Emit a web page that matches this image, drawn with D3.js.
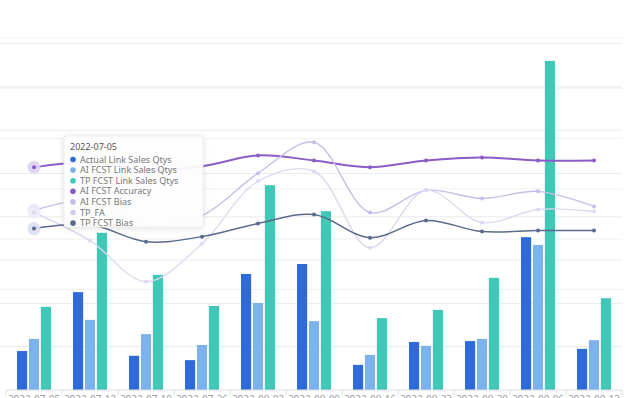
<!DOCTYPE html>
<html>
<head>
<meta charset="utf-8">
<script src="https://cdn.jsdelivr.net/npm/d3@7"></script>
<style>
  html, body { margin: 0; padding: 0; background: #fff; }
  #wrap { width: 630px; height: 398px; overflow: hidden; }
  text { font-family: "Noto Sans", "DejaVu Sans", sans-serif; }
</style>
</head>
<body>
<div id="wrap"></div>
<script>
// categories (weekly dates)
let dates = ['2022-07-05', '2022-07-12', '2022-07-19', '2022-07-26', '2022-08-02', '2022-08-09',
             '2022-08-16', '2022-08-23', '2022-08-30', '2022-09-06', '2022-09-13'];

// bar series (qtys)
let actualQty = [90, 226, 79, 69, 268, 291, 58, 111, 113, 353, 95];
let aiFcstQty = [118, 162, 129, 104, 201, 159, 81, 102, 118, 335, 115];
let tpFcstQty = [192, 363, 266, 194, 473, 413, 166, 185, 259, 760, 212];

// line series (%)
let aiAccuracy = [68.6, 70.6, 67.4, 69.0, 73.3, 71.3, 68.6, 71.3, 72.5, 71.3, 71.3];
let aiBias = [51.4, 55.4, 45.4, 49.4, 66.2, 78.5, 50.6, 59.4, 56.2, 59.0, 53.0];
let tpFA = [50.6, 39.4, 23.1, 38.2, 63.0, 67.0, 36.6, 59.4, 46.6, 51.8, 51.0];
let tpBias = [44.2, 45.8, 39.0, 41.0, 46.2, 49.8, 40.6, 47.4, 43.0, 43.4, 43.4];

let leftTicks = [0, 100, 200, 300, 400, 500, 600, 700, 800];
let rightTicks = [-20, 0, 20, 40, 60, 80, 100, 120];

let barSeries = [
  {name: 'Actual Link Sales Qtys', values: actualQty, color: '#2f6bd8'},
  {name: 'AI FCST Link Sales Qtys', values: aiFcstQty, color: '#7db1ee'},
  {name: 'TP FCST Link Sales Qtys', values: tpFcstQty, color: '#3ec8b5'}
];
let lineSeries = [
  {name: 'AI FCST Accuracy', values: aiAccuracy, color: '#8a5cc6', width: 2, halo: '#dcd2f2'},
  {name: 'AI FCST Bias', values: aiBias, color: '#c8bde8', width: 1.4, halo: '#e6e0f6'},
  {name: 'TP_FA', values: tpFA, color: '#dcd9f0', width: 1.4, halo: '#eeedf8'},
  {name: 'TP FCST Bias', values: tpBias, color: '#5a6a8c', width: 1.5, halo: '#d9def0'}
];

let wrap = document.getElementById('wrap');
let margin = {top: 38, right: 8, bottom: 8, left: 6},
    width = 630 - margin.left - margin.right,
    height = 398 - margin.top - margin.bottom;

let svg = d3.select(wrap).append('svg')
    .attr('width', 630)
    .attr('height', 398)
  .append('g')
    .attr('transform', 'translate(' + margin.left + ',' + margin.top + ')');

// scales
let x = d3.scaleBand().domain(dates).range([0, width]);
let x1 = d3.scaleBand().domain(barSeries.map(d => d.name)).range([0, 34]).paddingInner(0.15);
let y = d3.scaleLinear().domain([0, 800]).range([height, height - 8 * 43.3]);
let y1 = d3.scaleLinear().domain([-20, 120]).range([height, 0]);

// gridlines for both axes
svg.append('g')
  .selectAll('line')
  .data(leftTicks.slice(1))
  .enter().append('line')
    .attr('x1', -margin.left).attr('x2', width)
    .attr('y1', d => y(d)).attr('y2', d => y(d))
    .attr('stroke', '#ebebeb').attr('stroke-width', 1);
svg.append('g')
  .selectAll('line')
  .data(rightTicks.slice(2))
  .enter().append('line')
    .attr('x1', -margin.left).attr('x2', width)
    .attr('y1', d => y1(d)).attr('y2', d => y1(d))
    .attr('stroke', '#f1f1f1').attr('stroke-width', 1);

// bars
let groups = svg.selectAll('.grp')
    .data(dates)
  .enter().append('g')
    .attr('class', 'grp')
    .attr('transform', d => 'translate(' + (x(d) + x.bandwidth() / 2 - 17) + ',0)');
groups.selectAll('rect')
    .data((d, i) => barSeries.map(s => ({s: s, v: s.values[i]})))
  .enter().append('rect')
    .attr('x', d => x1(d.s.name))
    .attr('width', x1.bandwidth())
    .attr('y', d => y(d.v))
    .attr('height', d => height - y(d.v))
    .attr('fill', d => d.s.color);

// x axis
let xAxis = svg.append('g')
    .attr('transform', 'translate(0,' + height + ')');
xAxis.append('line')
    .attr('x1', 0).attr('x2', width)
    .attr('stroke', '#d9dde6');
xAxis.selectAll('.tk')
    .data(d3.range(dates.length + 1))
  .enter().append('line')
    .attr('x1', i => i * x.step()).attr('x2', i => i * x.step())
    .attr('y1', 0).attr('y2', 5)
    .attr('stroke', '#d9dde6');
xAxis.selectAll('text')
    .data(dates)
  .enter().append('text')
    .attr('x', d => x(d) + x.bandwidth() / 2)
    .attr('y', 13)
    .attr('text-anchor', 'middle')
    .attr('font-size', 10)
    .attr('fill', '#a0a0a0')
    .text(d => d);

// lines
let cx = i => x(dates[i]) + x.bandwidth() / 2;
let line = d3.line()
    .x((d, i) => cx(i))
    .y(d => y1(d))
    .curve(d3.curveCatmullRom.alpha(0.5));

lineSeries.forEach(function(s) {
  svg.append('path')
      .datum(s.values)
      .attr('fill', 'none')
      .attr('stroke', s.color)
      .attr('stroke-width', s.width)
      .attr('d', line);
  // hover halo on the first point
  svg.append('circle')
      .attr('cx', cx(0)).attr('cy', y1(s.values[0]))
      .attr('r', 6.5)
      .attr('fill', s.halo).attr('opacity', 0.9);
  svg.selectAll(null)
      .data(s.values)
    .enter().append('circle')
      .attr('cx', (d, i) => cx(i))
      .attr('cy', d => y1(d))
      .attr('r', 2)
      .attr('fill', s.color);
});

// tooltip for 2022-07-05
let tip = svg.append('g')
    .attr('transform', 'translate(' + (64 - margin.left) + ',' + (136 - margin.top) + ')');
tip.append('rect')
    .attr('width', 139).attr('height', 91)
    .attr('rx', 3)
    .attr('fill', '#fff').attr('fill-opacity', 0.93)
    .attr('stroke', '#eeeeee')
    .style('filter', 'drop-shadow(0 1px 3px rgba(0,0,0,0.12))');
tip.append('text')
    .attr('x', 6).attr('y', 14)
    .attr('font-size', 9)
    .attr('fill', '#555')
    .text(dates[0]);
let tipItems = barSeries.concat(lineSeries);
tipItems.forEach(function(s, i) {
  let yy = 23.5 + i * 10.6;
  tip.append('circle')
      .attr('cx', 9).attr('cy', yy)
      .attr('r', 2.8)
      .attr('fill', s.color === '#dcd9f0' ? '#d2cdec' : s.color);
  tip.append('text')
      .attr('x', 16).attr('y', yy + 3.1)
      .attr('font-size', 9)
      .attr('fill', '#777')
      .text(s.name);
});
</script>
</body>
</html>
